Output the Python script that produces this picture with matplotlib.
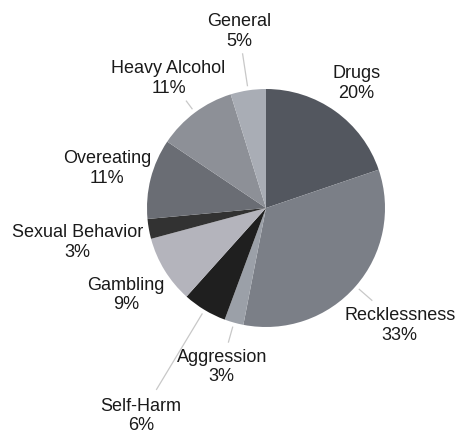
import numpy as np
import matplotlib
matplotlib.use("Agg")
import matplotlib.pyplot as plt

# ---- data ----
categories = ["Drugs", "Recklessness", "Aggression", "Self-Harm", "Gambling",
              "Sexual Behavior", "Overeating", "Heavy Alcohol", "General"]
values = [19.8, 33.3, 2.6, 6.0, 9.2, 2.7, 10.9, 10.8, 4.8]

# ---- style / layout ----
colors = ["#53575f", "#7b7f87", "#9ba0a8", "#1f1f1f", "#b4b4bc",
          "#323232", "#6a6d74", "#8d9097", "#a9adb5"]
label_dist = [1.30, 1.49, 1.38, 2.03, 1.38, 1.61, 1.38, 1.37, 1.51]
line_end = [None, 1.18, 1.17, 1.78, None, None, None, 1.12, 1.31]

W, H = 458, 435
fig = plt.figure(figsize=(W / 100, H / 100), dpi=100)
ax = fig.add_axes([0, 0, 1, 1])
ax.set_xlim(0, W)
ax.set_ylim(0, H)
ax.set_aspect("equal")
ax.axis("off")

cx, cy, R = 266, H - 209, 119
wedges, _ = ax.pie(values, colors=colors, startangle=90, counterclock=False,
                   center=(cx, cy), radius=R, frame=True,
                   wedgeprops=dict(linewidth=0))
ax.set_xlim(0, W)
ax.set_ylim(0, H)
ax.axis("off")

total = sum(values)
for w, cat, v, ld, le in zip(wedges, categories, values, label_dist, line_end):
    ang = np.deg2rad((w.theta1 + w.theta2) / 2)
    ux, uy = np.cos(ang), np.sin(ang)
    pct = int(np.floor(v / total * 100 + 0.5))
    ax.text(cx + ux * R * ld, cy + uy * R * ld, f"{cat}\n{pct}%",
            ha="center", va="center", multialignment="center",
            fontsize=13, family=["Liberation Sans", "DejaVu Sans"],
            color="#1a1a1a", linespacing=1.2)
    if le is not None:
        ax.plot([cx + ux * R * 1.04, cx + ux * R * le],
                [cy + uy * R * 1.04, cy + uy * R * le],
                color="#c8c8c8", linewidth=0.9)

fig.savefig("out.png", dpi=100, facecolor="white")
